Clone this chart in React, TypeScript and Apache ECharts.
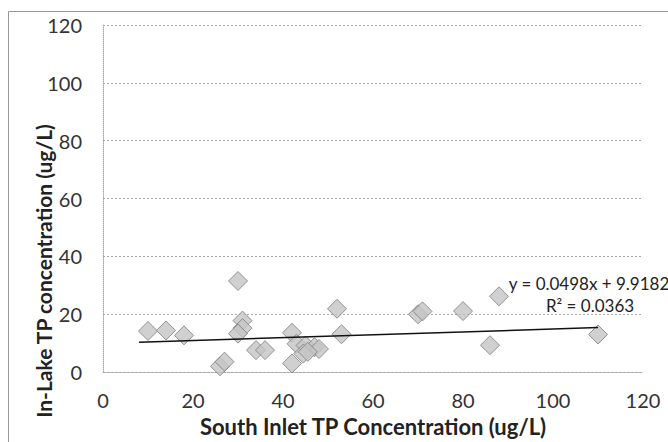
import React, { useEffect, useRef } from "react";
import * as echarts from "echarts";

const xTicks = [0, 20, 40, 60, 80, 100, 120];
const yTicks = [0, 20, 40, 60, 80, 100, 120];

const inletTP = [10, 14, 18, 26, 27, 30, 31, 31, 30, 34, 36, 42, 43, 45, 47, 48, 44.5, 45.5, 42, 52, 53, 70, 71, 80, 88, 86, 110];
const lakeTP = [14.2, 14.4, 12.7, 2.0, 3.6, 31.5, 17.8, 15.2, 13.3, 7.6, 7.6, 13.6, 9.8, 9.2, 8.6, 8.0, 6.4, 7.0, 3.0, 21.9, 13.1, 20.0, 21.0, 21.1, 26.2, 9.3, 13.0];

const trendX = [8, 110];
const trendY = [10.3, 15.4];

const xTitle = "South Inlet TP Concentration (ug/L)";
const yTitle = "In-Lake TP concentration (ug/L)";
const equationLines = ["y = 0.0498x + 9.9182", "R\u00b2 = 0.0363"];

export default function App() {
  const ref = useRef<HTMLDivElement>(null);
  useEffect(() => {
    if (!ref.current) return;
    const chart = echarts.init(ref.current, null, { renderer: "svg" });
    const font = "Lato, 'Open Sans', sans-serif";
    chart.setOption({
      animation: false,
      backgroundColor: "#ffffff",
      grid: { left: 103, right: 25, top: 25, bottom: 65, containLabel: false },
      xAxis: {
        type: "value",
        min: 0,
        max: 120,
        interval: 20,
        name: xTitle,
        nameLocation: "middle",
        nameGap: 41,
        nameTextStyle: { fontFamily: font, fontWeight: "bold", fontSize: 22, color: "#222" },
        axisLine: { show: true, lineStyle: { color: "#aaa", type: "dotted" } },
        axisTick: { show: false },
        axisLabel: {
          fontFamily: font,
          fontSize: 20,
          color: "#333",
          margin: 18,
          formatter: (v: number) => (xTicks.includes(v) ? String(v) : ""),
        },
        splitLine: { show: false },
      },
      yAxis: {
        type: "value",
        min: 0,
        max: 120,
        interval: 20,
        axisLine: { show: true, lineStyle: { color: "#aaa", type: "dotted" } },
        axisTick: { show: false },
        axisLabel: {
          fontFamily: font,
          fontSize: 20,
          color: "#333",
          margin: 21,
          formatter: (v: number) => (yTicks.includes(v) ? String(v) : ""),
        },
        splitLine: { show: true, lineStyle: { color: "#a8a8a8", type: [2, 2], width: 1 } },
      },
      series: [
        {
          type: "scatter",
          data: inletTP.map((x, i) => [x, lakeTP[i]]),
          symbol: "diamond",
          symbolSize: 19,
          itemStyle: { color: "#c4c4c4", borderColor: "#7d7d7d", borderWidth: 1 },
          z: 3,
        },
        {
          type: "line",
          data: trendX.map((x, i) => [x, trendY[i]]),
          symbol: "none",
          lineStyle: { color: "#111", width: 1.5 },
          z: 4,
        },
      ],
      graphic: [
        {
          type: "rect",
          shape: { x: 8.5, y: 11.5, width: 700, height: 500 },
          style: { fill: "none", stroke: "#999", lineWidth: 1 },
          silent: true,
        },
        {
          type: "text",
          x: 43,
          y: 271,
          rotation: Math.PI / 2,
          style: {
            text: yTitle,
            fontFamily: font,
            fontWeight: "bold",
            fontSize: 21,
            fill: "#222",
            align: "center",
            verticalAlign: "middle",
          },
        },
        {
          type: "text",
          x: 589,
          y: 283,
          style: {
            text: equationLines[0],
            fontFamily: font,
            fontSize: 17,
            fill: "#222",
            align: "center",
            verticalAlign: "middle",
          },
        },
        {
          type: "text",
          x: 590,
          y: 305,
          style: {
            text: equationLines[1],
            fontFamily: font,
            fontSize: 17,
            fill: "#222",
            align: "center",
            verticalAlign: "middle",
          },
        },
      ],
    });
    return () => chart.dispose();
  }, []);
  return (
    <div
      ref={ref}
      style={{ position: "absolute", left: 0, top: 0, width: 668, height: 442 }}
    />
  );
}
